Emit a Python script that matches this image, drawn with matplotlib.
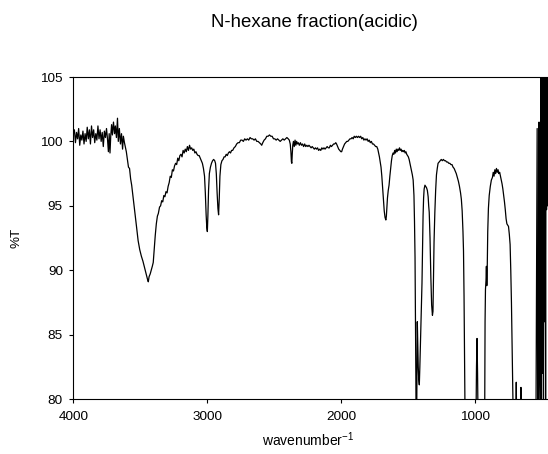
import matplotlib
matplotlib.use("Agg")
import matplotlib.pyplot as plt

plt.rcParams['font.family'] = ['Liberation Sans', 'DejaVu Sans']

title = "N-hexane fraction(acidic)"
x_ticks = [4000, 3000, 2000, 1000]
y_ticks = [80, 85, 90, 95, 100, 105]

wavenumber = [
    4000, 3992, 3984, 3976, 3968, 3960, 3952, 3944, 3936, 3928, 3920, 3912, 3904, 3896, 3888, 3880,
    3872, 3864, 3856, 3848, 3840, 3832, 3824, 3816, 3808, 3800, 3792, 3784, 3776, 3768, 3760, 3752,
    3744, 3738, 3732, 3726, 3720, 3714, 3708, 3700, 3692, 3686, 3678, 3670, 3664, 3656, 3648, 3640,
    3632, 3626, 3618, 3612, 3604, 3596, 3588, 3580, 3572, 3564, 3556, 3546, 3536, 3527, 3516, 3504,
    3492, 3480, 3468, 3456, 3446, 3440, 3434, 3426, 3418, 3410, 3403, 3396, 3388, 3380, 3372, 3365,
    3356, 3348, 3340, 3332, 3324, 3316, 3308, 3300, 3292, 3284, 3276, 3268, 3260, 3252, 3244, 3236,
    3228, 3220, 3212, 3204, 3196, 3188, 3180, 3172, 3164, 3156, 3148, 3140, 3132, 3124, 3116, 3108,
    3100, 3092, 3084, 3076, 3068, 3060, 3052, 3044, 3036, 3028, 3020, 3014, 3008, 3003, 2999, 2995,
    2990, 2984, 2976, 2968, 2960, 2952, 2944, 2938, 2932, 2926, 2920, 2915, 2910, 2905, 2898, 2890,
    2882, 2874, 2866, 2858, 2850, 2842, 2834, 2826, 2818, 2810, 2800, 2790, 2780, 2770, 2760, 2750,
    2740, 2730, 2720, 2710, 2700, 2690, 2680, 2670, 2660, 2650, 2640, 2630, 2620, 2610, 2600, 2593,
    2585, 2575, 2565, 2555, 2545, 2535, 2525, 2515, 2505, 2495, 2485, 2475, 2465, 2455, 2445, 2435,
    2425, 2415, 2405, 2395, 2387, 2380, 2375, 2371, 2368, 2365, 2361, 2356, 2350, 2344, 2338, 2332,
    2326, 2320, 2312, 2304, 2296, 2288, 2280, 2272, 2264, 2256, 2248, 2240, 2232, 2224, 2216, 2208,
    2200, 2192, 2184, 2176, 2168, 2160, 2152, 2144, 2136, 2128, 2120, 2112, 2104, 2096, 2088, 2080,
    2072, 2064, 2056, 2048, 2040, 2034, 2026, 2018, 2010, 2002, 1996, 1990, 1982, 1974, 1966, 1958,
    1950, 1942, 1934, 1926, 1918, 1910, 1902, 1894, 1886, 1878, 1870, 1862, 1854, 1846, 1838, 1830,
    1822, 1814, 1806, 1798, 1790, 1782, 1774, 1766, 1758, 1750, 1742, 1734, 1726, 1720, 1714, 1708,
    1702, 1696, 1690, 1684, 1678, 1672, 1666, 1662, 1658, 1654, 1648, 1642, 1636, 1630, 1624, 1618,
    1612, 1606, 1600, 1594, 1588, 1582, 1576, 1570, 1564, 1558, 1552, 1546, 1540, 1534, 1528, 1522,
    1516, 1510, 1504, 1498, 1492, 1486, 1480, 1474, 1468, 1462, 1456, 1452, 1448, 1445, 1442, 1440,
    1436, 1433, 1431, 1428, 1424, 1420, 1416, 1412, 1406, 1400, 1396, 1392, 1388, 1384, 1380, 1374,
    1368, 1362, 1356, 1350, 1346, 1342, 1336, 1330, 1324, 1318, 1314, 1310, 1306, 1300, 1294, 1288,
    1282, 1276, 1268, 1260, 1252, 1244, 1236, 1228, 1220, 1212, 1204, 1196, 1188, 1180, 1172, 1164,
    1156, 1148, 1140, 1132, 1124, 1116, 1108, 1102, 1096, 1090, 1086, 1082, 1078, 1074,
    993, 989, 985, 981, 977,
    928, 925, 922, 918, 915, 912, 909, 905, 900, 894, 886, 878, 870, 864, 858, 852,
    846, 840, 834, 828, 822, 816, 810, 804, 798, 792, 786, 780, 774, 768, 762, 756,
    750, 744, 738, 733, 728, 723, 718, 714,
    695, 692, 689, 660, 657, 654,
    545, 536, 532, 527, 522, 518, 513, 509, 505, 501, 497, 493, 489, 485, 481, 477,
    473, 469, 466, 462, 458, 455,
]

transmittance = [
    100.6, 100.9, 99.9, 100.7, 100.2, 101.0, 99.7, 100.5, 100.1, 100.8, 99.8, 100.6, 100.0, 101.1, 100.2, 100.9,
    99.8, 101.2, 100.3, 100.9, 99.9, 100.6, 100.1, 101.2, 100.2, 100.9, 100.0, 100.7, 99.6, 100.8, 100.3, 101.0,
    100.1, 99.2, 100.6, 99.1, 100.5, 101.3, 100.5, 101.5, 100.6, 101.2, 100.3, 101.8, 100.0, 101.0, 99.8, 100.6,
    99.4, 100.4, 99.9, 99.6, 99.2, 98.6, 98.0, 97.9, 97.1, 96.6, 95.9, 95.0, 94.1, 93.3, 92.3, 91.6,
    91.1, 90.7, 90.2, 89.7, 89.3, 89.1, 89.5, 89.7, 90.0, 90.3, 90.6, 91.6, 92.7, 93.6, 94.2, 94.4,
    94.9, 95.0, 95.4, 95.3, 95.8, 95.7, 96.1, 96.0, 96.5, 96.8, 97.3, 97.2, 97.8, 97.7, 98.1, 98.3,
    98.2, 98.7, 98.5, 98.9, 99.0, 98.8, 99.3, 99.1, 99.4, 99.2, 99.6, 99.3, 99.7, 99.4, 99.5, 99.3,
    99.4, 99.1, 99.2, 99.0, 98.9, 98.9, 98.7, 98.5, 98.3, 97.9, 97.3, 96.0, 94.3, 93.3, 93.0, 94.2,
    96.2, 97.5, 98.0, 98.3, 98.5, 98.6, 98.5, 98.3, 97.5, 96.0, 94.8, 94.3, 95.6, 97.3, 98.2, 98.5,
    98.6, 98.8, 98.8, 99.0, 98.9, 99.1, 99.2, 99.1, 99.3, 99.3, 99.5, 99.6, 99.8, 99.9, 99.9, 100.1,
    100.1, 100.0, 100.2, 100.1, 100.2, 100.1, 100.3, 100.2, 100.2, 100.1, 100.2, 100.0, 100.0, 99.9, 99.8, 99.7,
    99.9, 100.1, 100.2, 100.4, 100.4, 100.5, 100.4, 100.4, 100.2, 100.2, 100.1, 100.2, 100.1, 100.0, 100.1, 100.2,
    100.1, 100.2, 100.3, 100.2, 100.1, 99.8, 99.2, 98.4, 98.3, 99.0, 99.7, 100.0, 99.6, 100.1, 99.7, 100.0,
    99.8, 99.9, 99.7, 99.9, 99.7, 99.8, 99.6, 99.8, 99.6, 99.7, 99.6, 99.7, 99.6, 99.5, 99.6, 99.5,
    99.4, 99.5, 99.4, 99.5, 99.3, 99.4, 99.3, 99.5, 99.4, 99.5, 99.4, 99.5, 99.6, 99.5, 99.5, 99.7,
    99.6, 99.7, 99.8, 99.8, 99.9, 99.8, 99.6, 99.4, 99.3, 99.2, 99.2, 99.4, 99.6, 99.8, 99.9, 100.0,
    100.0, 100.1, 100.2, 100.2, 100.3, 100.2, 100.4, 100.3, 100.4, 100.3, 100.4, 100.3, 100.4, 100.2, 100.3, 100.1,
    100.2, 100.1, 100.2, 100.0, 100.1, 99.9, 100.0, 99.8, 99.8, 99.7, 99.6, 99.6, 99.4, 99.1, 98.8, 98.4,
    98.0, 97.3, 96.4, 95.4, 94.6, 94.1, 93.9, 94.2, 94.9, 95.6, 96.2, 96.6, 97.3, 97.9, 98.5, 98.9,
    99.1, 99.0, 99.3, 99.1, 99.4, 99.2, 99.4, 99.3, 99.5, 99.3, 99.4, 99.2, 99.3, 99.2, 99.3, 99.1,
    99.2, 99.0, 98.9, 98.8, 98.6, 98.3, 98.0, 97.7, 97.4, 97.0, 95.8, 93.8, 91.0, 87.0, 82.0, 78.0,
    78.0, 82.5, 86.0, 84.5, 82.5, 81.5, 81.1, 82.5, 85.0, 87.2, 89.0, 91.8, 94.2, 95.6, 96.3, 96.6,
    96.5, 96.4, 96.2, 95.7, 95.0, 94.5, 92.5, 89.5, 87.3, 86.5, 86.8, 89.5, 92.2, 94.5, 96.2, 97.4,
    97.9, 98.3, 98.4, 98.5, 98.6, 98.5, 98.6, 98.5, 98.5, 98.4, 98.4, 98.3, 98.3, 98.2, 98.2, 98.0,
    97.9, 97.7, 97.5, 97.2, 96.9, 96.5, 96.0, 95.5, 94.6, 93.0, 91.5, 88.0, 83.0, 78.0,
    78.0, 82.5, 84.7, 82.0, 78.0,
    78.0, 86.0, 88.5, 89.2, 90.3, 88.8, 90.0, 93.0, 94.8, 95.8, 96.5, 97.0, 97.2, 97.6, 97.3, 97.8,
    97.5, 97.9, 97.6, 97.8, 97.5, 97.6, 97.3, 97.0, 96.7, 96.3, 95.8, 95.3, 94.7, 94.0, 93.6, 93.5,
    93.4, 92.8, 92.0, 90.0, 87.5, 84.0, 80.5, 78.0,
    78.0, 81.3, 78.0, 78.0, 80.9, 78.0,
    78.0, 101.0, 78.0, 79.0, 101.5, 84.0, 80.0, 108.0, 78.0, 108.0, 82.0, 108.0, 78.0, 108.0, 86.0, 108.0,
    80.0, 108.0, 94.7, 108.0, 95.0, 104.0,
]

fig = plt.figure(figsize=(5.48, 4.54), dpi=100)
ax = fig.add_axes([73.3 / 548, 1 - 399 / 454, (548 - 73.3) / 548, (399 - 77) / 454])

ax.plot(wavenumber, transmittance, color='black', lw=0.9)

ax.set_xlim(4000, 455)
ax.set_ylim(80, 105)
ax.set_xticks(x_ticks)
ax.set_yticks(y_ticks)
ax.tick_params(axis='both', direction='out', length=3.2, width=0.8, labelsize=9.7)
ax.tick_params(axis='x', pad=5.4)
ax.tick_params(axis='y', pad=4.3)
ax.spines['right'].set_visible(False)
for s in ['left', 'bottom', 'top']:
    ax.spines[s].set_linewidth(0.8)

fig.text(314.5 / 548, 1 - 27.3 / 454, title, ha='center', va='baseline', fontsize=13.4)
fig.text(308 / 548, 1 - 446 / 454, r'$\mathregular{wavenumber^{-1}}$', ha='center', va='baseline', fontsize=10)
fig.text(16 / 548, 1 - 238 / 454, '%T', ha='center', va='center', rotation=90, fontsize=9.7)

fig.savefig('out.png', dpi=100)
